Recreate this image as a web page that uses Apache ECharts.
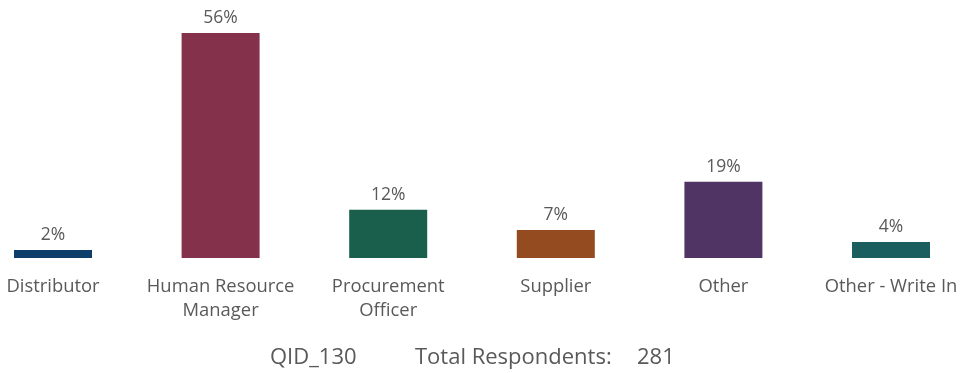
<!DOCTYPE html>
<html><head><meta charset="utf-8">
<script src="https://cdn.jsdelivr.net/npm/echarts@6/dist/echarts.min.js"></script>
<style>html,body{margin:0;padding:0;background:#fff}#c{width:963px;height:373px}</style>
</head><body><div id="c"></div>
<script>
const categories = ["Distributor", "Human Resource\nManager", "Procurement\nOfficer", "Supplier", "Other", "Other - Write In"];
const values = [2, 56, 12, 7, 19, 4];
const colors = ["#0E3F6B", "#84324C", "#1A5E4C", "#944B20", "#503464", "#1A5E60"];
const footer = ["QID_130", "Total Respondents:", "281"];

const chart = echarts.init(document.getElementById('c'));
const font = "'Open Sans', 'Noto Sans', sans-serif";
chart.setOption({
  animation: false,
  grid: { left: 53, right: 72, top: 33, bottom: 115, containLabel: false },
  xAxis: {
    type: 'category', data: categories, boundaryGap: false,
    axisLine: { show: false }, axisTick: { show: false },
    axisLabel: { interval: 0, color: '#595959', fontSize: 18.4, fontFamily: font, lineHeight: 24, margin: 17 }
  },
  yAxis: { type: 'value', min: 0, max: 56, show: false, splitLine: { show: false } },
  series: [{
    type: 'bar', barWidth: 78,
    data: values.map((v, i) => ({ value: v, itemStyle: { color: colors[i] } })),
    label: { show: true, position: 'top', distance: 6, color: '#595959', fontSize: 17.5, fontFamily: font, formatter: p => p.value + '%' }
  }],
  graphic: [
    { type: 'text', left: 270, top: 347, style: { text: footer[0], fill: '#595959', font: "22px " + font } },
    { type: 'text', left: 415, top: 347, style: { text: footer[1], fill: '#595959', font: "22px " + font } },
    { type: 'text', left: 637, top: 347, style: { text: footer[2], fill: '#595959', font: "22px " + font } }
  ]
});
</script></body></html>
